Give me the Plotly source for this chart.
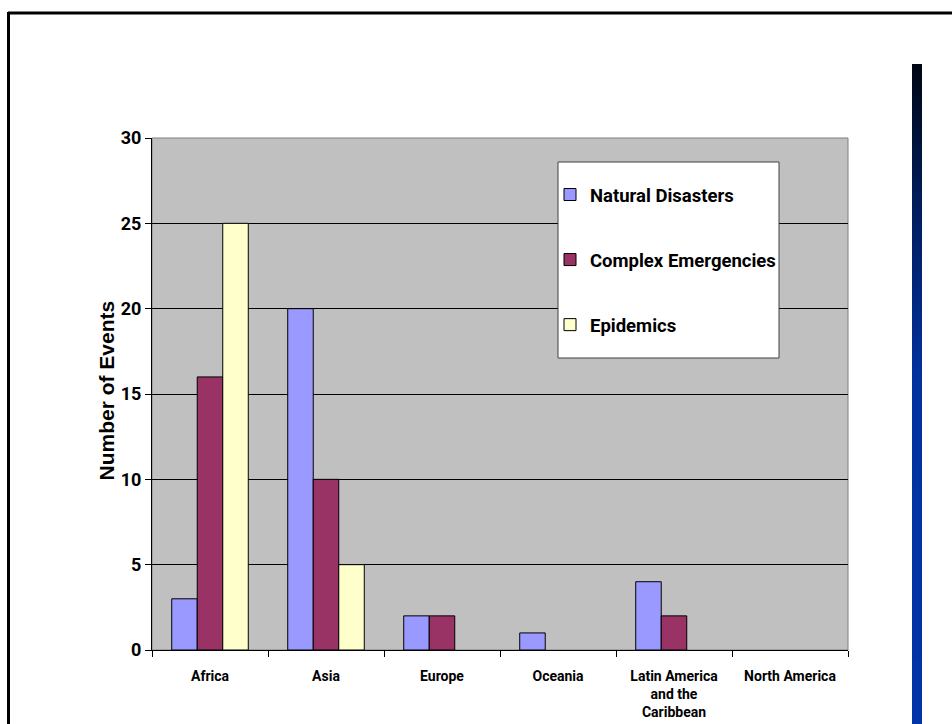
import plotly.graph_objects as go

# Events by region and type
regions = ["Africa", "Asia", "Europe", "Oceania",
           "Latin America<br>and the<br>Caribbean", "North America"]
natural_disasters = [3, 20, 2, 1, 4, 0]
complex_emergencies = [16, 10, 2, 0, 2, 0]
epidemics = [25, 5, 0, 0, 0, 0]
y_ticks = [0, 5, 10, 15, 20, 25, 30]
y_title = "Number of Events"

W, H = 952, 724
L, R, T, B = 152, 848, 138, 650  # plot area in pixels

NARROW = "Roboto, Lato, sans-serif"
WIDE = "Liberation Sans, Arial, sans-serif"


def px(x):
    return (x - L) / (R - L)


def py(y):
    return (B - y) / (B - T)


series = [
    ("Natural Disasters", natural_disasters, "#9999FF"),
    ("Complex Emergencies", complex_emergencies, "#993366"),
    ("Epidemics", epidemics, "#FFFFCC"),
]

fig = go.Figure()
for i, (name, vals, color) in enumerate(series):
    fig.add_trace(go.Bar(
        x=regions, y=vals, name=name, legendgroup=f"g{i}",
        marker=dict(color=color,
                    line=dict(color="#000000", width=[1 if v else 0 for v in vals])),
    ))

shapes = []
# slide frame
shapes.append(dict(type="line", xref="paper", yref="paper",
                   x0=px(8), x1=px(960), y0=py(13), y1=py(13),
                   line=dict(color="#000000", width=3)))
shapes.append(dict(type="line", xref="paper", yref="paper",
                   x0=px(8.5), x1=px(8.5), y0=py(12), y1=py(730),
                   line=dict(color="#000000", width=3)))
# plot area border
shapes.append(dict(type="rect", xref="paper", yref="paper",
                   x0=0, x1=1, y0=0, y1=1, layer="below",
                   line=dict(color="#808080", width=1)))
# legend box
shapes.append(dict(type="rect", xref="paper", yref="paper",
                   x0=px(558), x1=px(779), y0=py(358), y1=py(162),
                   fillcolor="#FFFFFF", line=dict(color="#404040", width=1)))


# vertical blue gradient bar on the right
def lerp(a, b, t):
    return tuple(round(a[k] + (b[k] - a[k]) * t) for k in range(3))


stops = [(64, (0, 6, 20)), (200, (0, 28, 90)), (380, (0, 50, 160)), (724, (0, 52, 168))]
step = 2
y = 64
while y < 724:
    for (y0, c0), (y1, c1) in zip(stops[:-1], stops[1:]):
        if y0 <= y < y1:
            c = lerp(c0, c1, (y - y0) / (y1 - y0))
            break
    shapes.append(dict(type="rect", xref="paper", yref="paper",
                       x0=px(912), x1=px(922), y0=py(min(y + step + 0.5, 726)), y1=py(y),
                       fillcolor="rgb(%d,%d,%d)" % c, line=dict(width=0)))
    y += step

fig.update_layout(
    width=W, height=H,
    margin=dict(l=L, r=W - R, t=T, b=H - B, pad=0, autoexpand=False),
    paper_bgcolor="#FFFFFF",
    plot_bgcolor="#C0C0C0",
    barmode="group",
    bargap=0.34,
    bargroupgap=0,
    shapes=shapes,
    annotations=[dict(
        text=y_title, textangle=-90, showarrow=False,
        xref="paper", yref="paper", x=px(106), y=py(390.5),
        xanchor="center", yanchor="middle",
        font=dict(family=WIDE, size=21, color="#000000", weight="bold"),
    )],
    showlegend=True,
    legend=dict(
        x=px(550), y=py(176), xanchor="left", yanchor="top",
        bgcolor="rgba(0,0,0,0)", borderwidth=0,
        traceorder="grouped", tracegroupgap=38,
        font=dict(family=NARROW, size=18.5, color="#000000", weight="bold"),
    ),
    xaxis=dict(
        type="category", automargin=False,
        showgrid=False, zeroline=False,
        showline=True, linecolor="#000000", linewidth=1,
        ticks="outside", tickson="boundaries", ticklen=6, tickcolor="#000000",
        tickangle=0,
        tickfont=dict(family=NARROW, size=14, color="#000000", weight="bold"),
        ticklabelstandoff=13,
        fixedrange=True,
    ),
    yaxis=dict(
        range=[0, 30], tickvals=y_ticks, automargin=False,
        showgrid=True, gridcolor="#000000", gridwidth=1,
        zeroline=False,
        showline=True, linecolor="#000000", linewidth=1,
        ticks="outside", ticklen=6, tickcolor="#000000",
        tickfont=dict(family=NARROW, size=18, color="#000000", weight="bold"),
        fixedrange=True,
    ),
)

fig.write_html("out.html")
